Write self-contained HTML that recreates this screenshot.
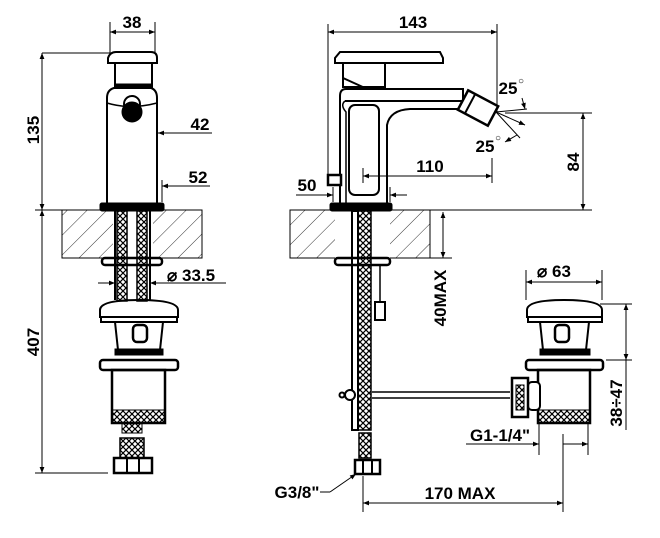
<!DOCTYPE html>
<html><head><style>
html,body{margin:0;padding:0;background:#fff;}
svg{display:block;}
text{font-family:"Liberation Sans",Arial,sans-serif;font-weight:bold;fill:#000;}
</style></head><body>
<svg width="660" height="538" viewBox="0 0 660 538" xmlns="http://www.w3.org/2000/svg">
<defs>
<pattern id="h" width="14" height="14" patternUnits="userSpaceOnUse" patternTransform="rotate(45)">
<line x1="0" y1="0" x2="0" y2="14" stroke="#000" stroke-width="0.8"/>
</pattern>
<pattern id="x" width="6" height="6" patternUnits="userSpaceOnUse">
<path d="M0 0L6 6M6 0L0 6" stroke="#000" stroke-width="1.2"/>
</pattern>
<marker id="a" viewBox="0 0 10 10" refX="10" refY="5" markerWidth="9" markerHeight="6" orient="auto-start-reverse" markerUnits="userSpaceOnUse">
<path d="M0 1L10 5L0 9z" fill="#000"/>
</marker>
</defs>
<g stroke="#000" fill="none" stroke-width="1">
<!-- LEFT VIEW dims -->
<line x1="110" y1="22" x2="110" y2="53"/><line x1="155" y1="22" x2="155" y2="52"/>
<line x1="110" y1="32" x2="155" y2="32" marker-start="url(#a)" marker-end="url(#a)"/>
<line x1="42" y1="53" x2="110" y2="53"/>
<line x1="42" y1="53" x2="42" y2="210" marker-start="url(#a)" marker-end="url(#a)"/>
<line x1="42" y1="210" x2="42" y2="473" marker-start="url(#a)" marker-end="url(#a)"/>
<line x1="35" y1="210" x2="62" y2="210"/>
<line x1="35" y1="473" x2="108" y2="473"/>
<line x1="158" y1="133" x2="212" y2="133" marker-start="url(#a)"/>
<line x1="162" y1="186" x2="210" y2="186" marker-start="url(#a)"/>
<line x1="162" y1="180" x2="162" y2="202"/>
<line x1="98" y1="283" x2="115" y2="283" marker-end="url(#a)"/>
<line x1="150" y1="283" x2="226" y2="283" marker-start="url(#a)"/>
<!-- left counter -->
<rect x="62" y="210" width="140" height="48" fill="url(#h)"/>
<rect x="113" y="210" width="40" height="48" fill="#fff" stroke="none"/>
<!-- left tap -->
<path d="M108 58 Q110 52 116 52 L151 52 Q157 52 157 58 L157 63 L108 63 Z" stroke-width="2"/>
<rect x="115" y="63" width="37" height="24" stroke-width="2"/>
<rect x="115" y="84" width="37" height="4" fill="#000"/>
<path d="M107 205 L107 98 Q107 90 114 88 L151 88 Q157 90 157 98 L157 205" stroke-width="2"/>
<path d="M107 103 Q130 110 157 103" stroke-width="1.5"/>
<circle cx="132" cy="104" r="8" stroke-width="2"/>
<circle cx="132" cy="112" r="10" fill="#000"/>
<rect x="100" y="203" width="64" height="8" rx="2" fill="#000"/>
<!-- left pipes -->
<rect x="117" y="211" width="10" height="90" fill="url(#x)" stroke-width="1.5"/>
<rect x="137" y="211" width="10" height="90" fill="url(#x)" stroke-width="1.5"/>
<line x1="115" y1="211" x2="115" y2="300" stroke-width="2"/><line x1="150" y1="211" x2="150" y2="300" stroke-width="2"/>
<rect x="102" y="258" width="60" height="7" rx="3" stroke-width="2.5"/>
<!-- left popup -->
<path d="M100 310 Q100 300 139 300 Q178 300 178 310 L178 317 L100 317 Z" stroke-width="2"/>
<rect x="101" y="317" width="76" height="5" stroke-width="2"/>
<path d="M115 322 L118 350 L160 350 L163 322" stroke-width="2"/>
<rect x="133" y="325" width="14" height="17" rx="4" stroke-width="2.5"/>
<rect x="115" y="349" width="48" height="6" fill="#000"/>
<rect x="100" y="360" width="78" height="10" rx="3" stroke-width="2.5"/>
<rect x="112" y="370" width="53" height="53" stroke-width="2.5"/>
<rect x="112" y="410" width="53" height="13" fill="url(#x)"/>
<rect x="122" y="423" width="20" height="10" fill="url(#x)"/>
<rect x="120" y="438" width="24" height="20" fill="url(#x)" stroke-width="1.5"/>
<rect x="114" y="458" width="38" height="15" stroke-width="2.5"/>
<line x1="127" y1="458" x2="127" y2="473" stroke-width="2"/><line x1="139" y1="458" x2="139" y2="473" stroke-width="2"/>

<!-- RIGHT VIEW dims -->
<line x1="328" y1="24" x2="328" y2="180"/><line x1="497" y1="24" x2="497" y2="112"/>
<line x1="328" y1="32" x2="497" y2="32" marker-start="url(#a)" marker-end="url(#a)"/>
<line x1="505" y1="113" x2="592" y2="113"/>
<line x1="583" y1="113" x2="583" y2="210" marker-start="url(#a)" marker-end="url(#a)"/>
<line x1="388" y1="210" x2="592" y2="210"/>
<line x1="363" y1="176" x2="492" y2="176" marker-start="url(#a)" marker-end="url(#a)"/>
<line x1="492" y1="158" x2="492" y2="183"/><line x1="363" y1="168" x2="363" y2="183"/>
<line x1="296" y1="195" x2="333" y2="195" marker-end="url(#a)"/>
<line x1="407" y1="195" x2="390" y2="195" marker-end="url(#a)"/>
<line x1="333" y1="187" x2="333" y2="202"/><line x1="390" y1="187" x2="390" y2="202"/>
<line x1="443" y1="212" x2="443" y2="258" marker-start="url(#a)" marker-end="url(#a)"/>
<line x1="430" y1="258" x2="452" y2="258"/>
<!-- nozzle rays -->
<line x1="496" y1="112" x2="527" y2="109"/><line x1="496" y1="112" x2="525" y2="125" marker-end="url(#a)"/>
<line x1="496" y1="112" x2="520" y2="138"/>
<path d="M522 98 L525 109" marker-end="url(#a)"/>
<path d="M517 135 L505 142" marker-end="url(#a)"/>
<!-- right counter -->
<rect x="290" y="210" width="140" height="48" fill="url(#h)"/>
<rect x="335" y="210" width="55" height="48" fill="#fff" stroke="none"/>
<!-- right tap -->
<path d="M335 58 L340 52 L440 52 L443 58 L443 63 L335 63 Z" stroke-width="2"/>
<rect x="343" y="63" width="42" height="24" stroke-width="2"/>
<path d="M343 78 L365 88" stroke-width="2"/>
<path d="M340 205 L340 96 Q340 89 346 89 L463 89 L463 101 L345 101" stroke-width="2"/>
<path d="M387 205 L387 125 Q390 110 410 109 L463 109 L463 101" stroke-width="2"/>
<path d="M345 101 Q340 105 346 112 L346 205" stroke-width="1.5"/>
<rect x="349" y="105" width="30" height="90" rx="6" stroke-width="2"/>
<rect x="328" y="175" width="13" height="10" stroke-width="2.5" fill="#fff"/>
<rect x="330" y="203" width="62" height="8" rx="2" fill="#000"/>
<g transform="translate(478,108) rotate(28)">
<rect x="-17" y="-11" width="34" height="22" stroke-width="2.5" fill="#fff"/>
<line x1="-9" y1="-11" x2="-9" y2="11" stroke-width="2"/>
</g>
<!-- right pipes -->
<rect x="352" y="211" width="6" height="219" stroke-width="2"/>
<rect x="358" y="211" width="13" height="219" fill="url(#x)" stroke-width="1.5"/>
<rect x="335" y="258" width="55" height="7" rx="3" stroke-width="2.5"/>
<rect x="375" y="302" width="10" height="18" stroke-width="2"/>
<line x1="380" y1="265" x2="380" y2="302" stroke-width="1.5"/>
<line x1="372" y1="392" x2="510" y2="392" stroke-width="1.5"/><line x1="372" y1="398" x2="510" y2="398" stroke-width="1.5"/>
<circle cx="350" cy="395" r="5" fill="#fff" stroke-width="2"/>
<circle cx="342" cy="395" r="2.5" stroke-width="2"/>
<rect x="359" y="433" width="12" height="25" fill="url(#x)" stroke-width="1.5"/>
<rect x="355" y="460" width="25" height="14" stroke-width="2.5"/>
<line x1="363" y1="460" x2="363" y2="474" stroke-width="2"/><line x1="372" y1="460" x2="372" y2="474" stroke-width="2"/>
<!-- right popup -->
<path d="M527 310 Q527 300 564 300 Q602 300 602 310 L602 317 L527 317 Z" stroke-width="2"/>
<rect x="528" y="317" width="74" height="5" stroke-width="2"/>
<path d="M540 322 L543 350 L586 350 L589 322" stroke-width="2"/>
<rect x="555" y="325" width="14" height="17" rx="4" stroke-width="2.5"/>
<rect x="540" y="349" width="50" height="6" fill="#000"/>
<rect x="526" y="360" width="77" height="10" rx="3" stroke-width="2.5"/>
<rect x="538" y="370" width="52" height="53" stroke-width="2.5"/>
<rect x="538" y="410" width="52" height="13" fill="url(#x)"/>
<rect x="528" y="382" width="12" height="28" rx="4" stroke-width="2" fill="#fff"/>
<rect x="512" y="378" width="16" height="39" stroke-width="2.5" fill="#fff"/>
<rect x="516" y="385" width="8" height="25" fill="url(#x)"/>
<!-- right popup dims -->
<line x1="526" y1="270" x2="526" y2="300"/><line x1="602" y1="270" x2="602" y2="300"/>
<line x1="526" y1="282" x2="602" y2="282" marker-start="url(#a)" marker-end="url(#a)"/>
<line x1="600" y1="304" x2="632" y2="304"/><line x1="606" y1="360" x2="632" y2="360"/>
<line x1="626" y1="304" x2="626" y2="360" marker-start="url(#a)" marker-end="url(#a)"/>
<line x1="626" y1="360" x2="626" y2="430"/>
<line x1="539" y1="423" x2="539" y2="455"/><line x1="588" y1="423" x2="588" y2="455"/>
<line x1="466" y1="444" x2="539" y2="444" marker-end="url(#a)"/>
<line x1="563" y1="444" x2="588" y2="444" marker-end="url(#a)"/>
<line x1="563" y1="434" x2="563" y2="512"/>
<line x1="363" y1="476" x2="363" y2="512"/>
<line x1="363" y1="503" x2="563" y2="503" marker-start="url(#a)" marker-end="url(#a)"/>
<line x1="320" y1="492" x2="330" y2="492"/>
<line x1="330" y1="492" x2="356" y2="474" marker-end="url(#a)"/>
</g>
<g font-size="17">
<text x="132" y="28" text-anchor="middle">38</text>
<text x="200" y="130" text-anchor="middle">42</text>
<text x="198" y="183" text-anchor="middle">52</text>
<text transform="translate(39,130) rotate(-90)" text-anchor="middle">135</text>
<text transform="translate(39,342) rotate(-90)" text-anchor="middle">407</text>
<text x="167" y="281">⌀</text><text x="182" y="281">33.5</text>
<text x="413" y="28" text-anchor="middle">143</text>
<text x="508" y="94" text-anchor="middle">25</text><text x="518" y="84" font-size="10" font-weight="normal">○</text>
<text x="485" y="152" text-anchor="middle">25</text><text x="495" y="141" font-size="10" font-weight="normal">○</text>
<text x="430" y="172" text-anchor="middle">110</text>
<text x="307" y="191" text-anchor="middle">50</text>
<text transform="translate(579,162) rotate(-90)" text-anchor="middle">84</text>
<text transform="translate(446,298) rotate(-90)" text-anchor="middle">40MAX</text>
<text x="537" y="277">⌀</text><text x="552" y="277">63</text>
<text transform="translate(622,403) rotate(-90)" text-anchor="middle">38÷47</text>
<text x="500" y="441" text-anchor="middle">G1-1/4"</text>
<text x="297" y="498" text-anchor="middle">G3/8"</text>
<text x="460" y="499" text-anchor="middle">170 MAX</text>
</g>
</svg>
</body></html>
